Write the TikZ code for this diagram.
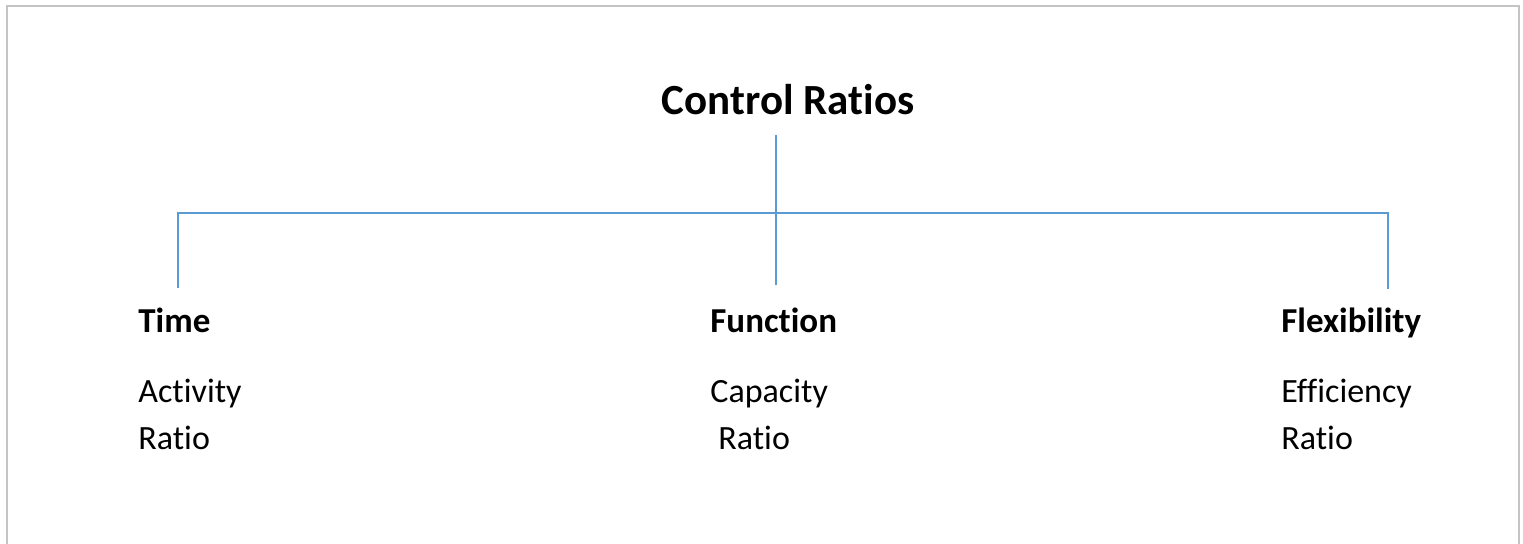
\documentclass[tikz,border=0pt]{standalone}
\usepackage{fontspec}
\setmainfont{Carlito}[Ligatures={NoCommon}]
\definecolor{linkblue}{HTML}{5B9BD5}
\definecolor{framegray}{HTML}{C4C4C4}
\tikzset{
  link/.style={draw=linkblue, line width=1pt},
  head/.style={anchor=base west, inner sep=0pt, font=\fontsize{17.5}{20}\selectfont\bfseries},
  item/.style={anchor=base west, inner sep=0pt, font=\fontsize{17}{20}\selectfont},
  titlebox/.style={anchor=base, inner sep=0pt, font=\fontsize{21.5}{25}\selectfont\bfseries},
}
\begin{document}
\begin{tikzpicture}[x=0.5pt,y=-0.5pt]
\useasboundingbox (0,0) rectangle (1523,544);
\fill[white] (0,0) rectangle (1523,544);
\draw[framegray, line width=1pt] (6.5,546) -- (6.5,6.5) -- (1518.5,6.5) -- (1518.5,546);

\node[titlebox] (title) at (788,115) {Control Ratios};
\coordinate (top) at (776,135);
\coordinate (mid) at (776,213);
\coordinate (jl) at (178,213);
\coordinate (jr) at (1388,213);
\coordinate (el) at (178,288);
\coordinate (em) at (776,285);
\coordinate (er) at (1388,289);
\draw[link] (top) -- (em);
\draw[link] (el) -- (jl) -- (jr) -- (er);

\node[head] (h1) at (138,333) {Time};
\node[item] (a1) at (138,403) {Activity};
\node[item] (b1) at (138,450) {Ratio};

\node[head] (h2) at (710,333) {Function};
\node[item] (a2) at (710,403) {Capacity};
\node[item] (b2) at (718,450) {Ratio};

\node[head] (h3) at (1281,333) {Flexibility};
\node[item] (a3) at (1281,403) {Efficiency};
\node[item] (b3) at (1281,450) {Ratio};
\end{tikzpicture}
\end{document}
